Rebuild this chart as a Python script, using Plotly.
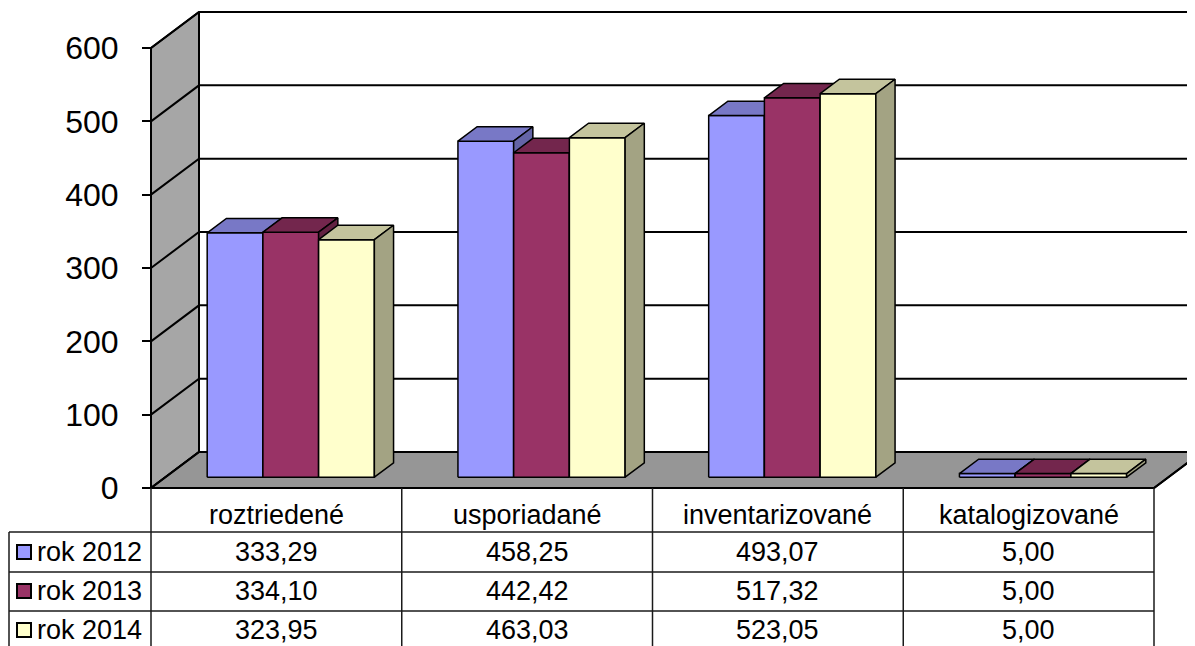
import plotly.graph_objects as go

# ---------------- data ----------------
categories = ["roztriedené", "usporiadané", "inventarizované", "katalogizované"]
series_names = ["rok 2012", "rok 2013", "rok 2014"]
values_2012 = [333.29, 458.25, 493.07, 5.00]
values_2013 = [334.10, 442.42, 517.32, 5.00]
values_2014 = [323.95, 463.03, 523.05, 5.00]
y_ticks = [0, 100, 200, 300, 400, 500, 600]

series_values = [values_2012, values_2013, values_2014]
front_colors = ["#9999FF", "#993366", "#FFFFCC"]
top_colors = ["#7878C6", "#73264D", "#C4C49D"]
side_colors = ["#6464A6", "#622141", "#A3A383"]

# ---------------- geometry (layout) ----------------
PAGE_W, PAGE_H = 1195, 646
OFF = 8                               # default body margin of the html page
W, H = PAGE_W - OFF, PAGE_H - OFF
X0_PX, Y0_PX = 151.0, 488.0          # page position of the front-left floor corner (value 0)
PX_PER_X = 250.75                    # one category slot
PX_PER_Y = 440.0 / 600.0             # pixels per value unit


def xd(px):
    return (px - X0_PX) / PX_PER_X


def yd(py):
    return (Y0_PX - py) / PX_PER_Y


DEPTH_X = 48.0 / PX_PER_X           # full depth offset of the 3D box
DEPTH_Y = 36.0 / PX_PER_Y
N = len(categories)
YMAX = y_ticks[-1]
GAP = 1.5                            # gap width as multiple of bar width
BW = 1.0 / (len(series_names) + GAP)
F0, FD = 0.30, 0.40                  # bar front depth fraction, bar depth fraction

fig = go.Figure()
LINE = dict(color="black", width=1.5)


def poly(xs, ys, fill, line=LINE):
    fig.add_trace(go.Scatter(
        x=list(xs) + [xs[0]], y=list(ys) + [ys[0]], mode="lines",
        fill="toself", fillcolor=fill, line=line,
        hoverinfo="skip", showlegend=False))


# walls
XR = N + DEPTH_X + 1
poly([0, DEPTH_X, DEPTH_X, 0], [0, DEPTH_Y, YMAX + DEPTH_Y, YMAX], "#A6A6A6",
     line=dict(color="black", width=2))
poly([0, N, N + DEPTH_X, DEPTH_X], [0, 0, DEPTH_Y, DEPTH_Y], "#969696",
     line=dict(color="black", width=2))

# gridlines on back wall and left wall
gx, gy = [], []
for v in y_ticks:
    gx += [0, DEPTH_X, XR, None]
    gy += [v, v + DEPTH_Y, v + DEPTH_Y, None]
fig.add_trace(go.Scatter(x=gx, y=gy, mode="lines",
                         line=dict(color="black", width=2),
                         hoverinfo="skip", showlegend=False))
fig.add_trace(go.Scatter(x=[DEPTH_X, DEPTH_X], y=[DEPTH_Y, YMAX + DEPTH_Y], mode="lines",
                         line=dict(color="black", width=2),
                         hoverinfo="skip", showlegend=False))
fig.add_trace(go.Scatter(x=[0, N, N + DEPTH_X], y=[0, 0, DEPTH_Y], mode="lines",
                         line=dict(color="black", width=2),
                         hoverinfo="skip", showlegend=False))

# bars (front, top, side faces)
dx0, dy0 = F0 * DEPTH_X, F0 * DEPTH_Y
ddx, ddy = FD * DEPTH_X, FD * DEPTH_Y
for i in range(N):
    for j, vals in enumerate(series_values):
        v = vals[i]
        xl = i + GAP / 2 * BW + j * BW + dx0
        xr = xl + BW
        yb = dy0
        yt = dy0 + v
        poly([xl, xr, xr, xl], [yb, yb, yt, yt], front_colors[j])
        poly([xl, xr, xr + ddx, xl + ddx], [yt, yt, yt + ddy, yt + ddy], top_colors[j])
        poly([xr, xr + ddx, xr + ddx, xr], [yb, yb + ddy, yt + ddy, yt], side_colors[j])

# front-left axis line
fig.add_trace(go.Scatter(x=[0, 0], y=[0, YMAX], mode="lines",
                         line=dict(color="black", width=2),
                         hoverinfo="skip", showlegend=False))

# ---------------- data table ----------------
TL = dict(color="#1a1a1a", width=1.5)
LEG_L = xd(9)
row_edges = [0, yd(532), yd(572), yd(611), yd(650)]
bottom = yd(660)
for k in range(N + 1):
    fig.add_shape(type="line", xref="x", yref="y", x0=k, x1=k, y0=0, y1=bottom, line=TL)
fig.add_shape(type="line", xref="x", yref="y", x0=LEG_L, x1=LEG_L,
              y0=row_edges[1], y1=bottom, line=TL)
for r in (1, 2, 3):
    fig.add_shape(type="line", xref="x", yref="y", x0=LEG_L, x1=N,
                  y0=row_edges[r], y1=row_edges[r], line=TL)

TFONT = dict(family="Liberation Sans, Arial, sans-serif", size=27, color="black")
hdr_y = yd(515)
for i, c in enumerate(categories):
    fig.add_annotation(x=i + 0.5, y=hdr_y, xref="x", yref="y", text=c,
                       showarrow=False, font=TFONT, xanchor="center", yanchor="middle")

row_centers = [yd(552), yd(591), yd(630)]
for j, (name, vals) in enumerate(zip(series_names, series_values)):
    yc = row_centers[j]
    for i, v in enumerate(vals):
        fig.add_annotation(x=i + 0.5, y=yc, xref="x", yref="y",
                           text=f"{v:.2f}".replace(".", ","),
                           showarrow=False, font=TFONT, xanchor="center", yanchor="middle")
    # legend key
    fig.add_shape(type="rect", xref="x", yref="y", x0=xd(17), x1=xd(31),
                  y0=yc - 7 / PX_PER_Y, y1=yc + 7 / PX_PER_Y,
                  fillcolor=front_colors[j], line=dict(color="black", width=2))
    fig.add_annotation(x=xd(35), y=yc, xref="x", yref="y", text=name,
                       showarrow=False, font=TFONT, xanchor="left", yanchor="middle")

# ---------------- layout ----------------
fig.update_layout(
    width=W, height=H, autosize=False,
    margin=dict(l=0, r=0, t=0, b=0, pad=0),
    paper_bgcolor="white", plot_bgcolor="white",
    showlegend=False,
    xaxis=dict(range=[xd(OFF), xd(OFF + W)], visible=False, fixedrange=True),
    yaxis=dict(range=[yd(OFF + H), yd(OFF)], anchor="free", position=(X0_PX - OFF) / W,
               side="left",
               tickmode="array", tickvals=y_ticks, ticktext=[str(t) for t in y_ticks],
               ticks="outside", ticklen=9, tickwidth=2, tickcolor="black",
               ticklabelstandoff=17,
               tickfont=dict(family="Liberation Sans, Arial, sans-serif", size=32,
                             color="black"),
               showgrid=False, zeroline=False, showline=False, fixedrange=True),
)

fig.write_html("out.html")
